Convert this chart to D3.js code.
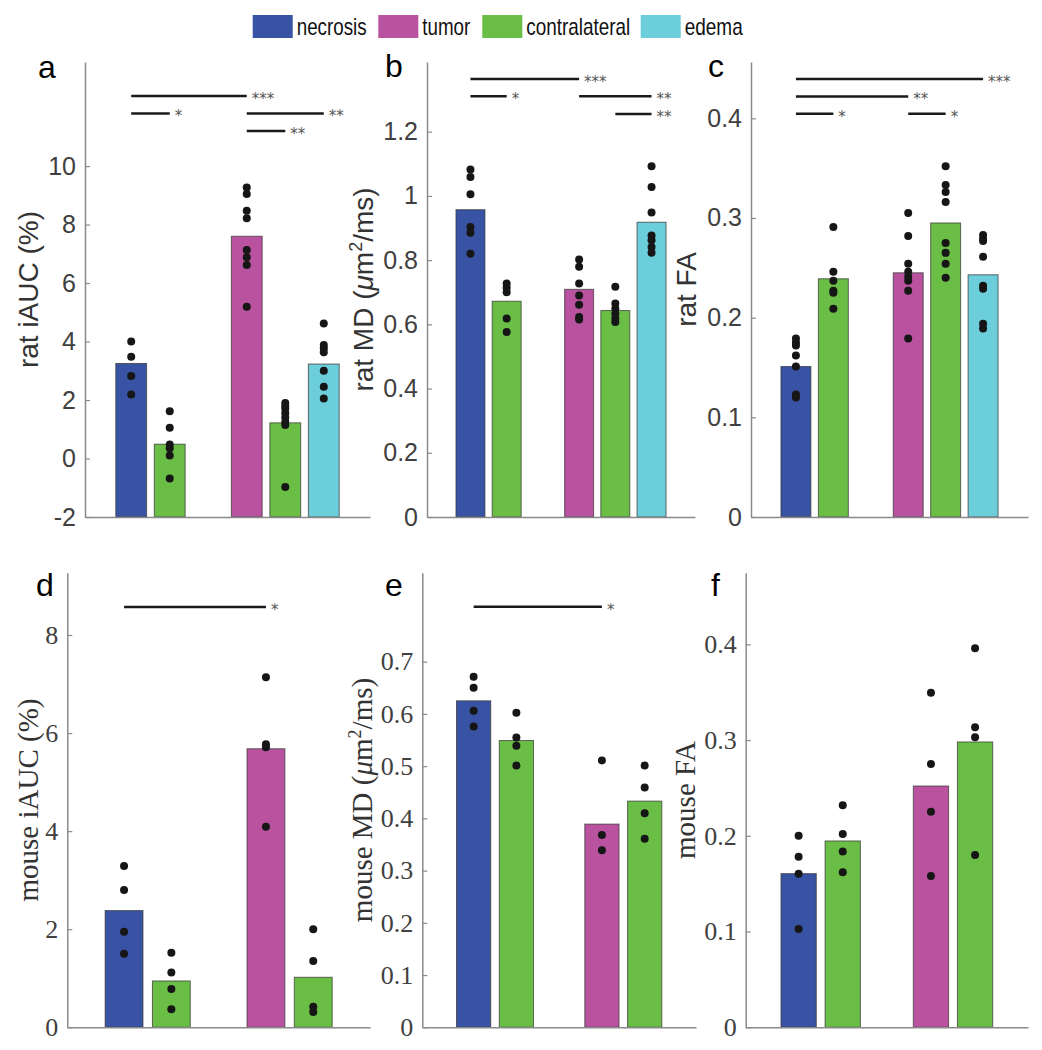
<!DOCTYPE html>
<html><head><meta charset="utf-8">
<script src="https://cdn.jsdelivr.net/npm/d3@7"></script>
<style>body{margin:0;background:#fff}svg{display:block}</style>
</head><body>
<svg id="chart" width="1042" height="1050"></svg>
<script>
// ---------- DATA ----------
const categories = ["necrosis", "tumor", "contralateral", "edema"];
const categoryColors = ["#3953a4", "#b9529f", "#6abd45", "#6dcedb"];

const ratBarCats = ["necrosis", "contralateral", "tumor", "contralateral", "edema"];
const ratBarPos = [1, 2, 4, 5, 6];
const mouseBarCats = ["necrosis", "contralateral", "tumor", "contralateral"];
const mouseBarPos = [1, 2, 4, 5];

const ratIAUCMeans = [3.25, 0.49, 7.60, 1.22, 3.23];
const ratIAUCPoints = [
  [4.0, 3.48, 2.82, 2.19],
  [1.62, 1.05, 0.48, 0.35, 0.10, -0.68],
  [9.27, 9.05, 8.47, 8.22, 7.13, 6.88, 6.62, 5.19],
  [1.9, 1.8, 1.7, 1.55, 1.4, 1.25, 1.15, -0.97],
  [4.62, 3.88, 3.77, 3.63, 3.0, 2.45, 2.05]
];
const ratIAUCSig = [[1, 4, "***", 12.4], [1, 2, "*", 11.8], [4, 6, "**", 11.8], [4, 5, "**", 11.2]];
const ratIAUCTicks = [-2, 0, 2, 4, 6, 8, 10];

const ratMDMeans = [0.957, 0.672, 0.709, 0.643, 0.918];
const ratMDPoints = [
  [1.082, 1.059, 1.005, 0.903, 0.885, 0.82],
  [0.727, 0.714, 0.70, 0.618, 0.576],
  [0.802, 0.779, 0.727, 0.69, 0.661, 0.623, 0.615],
  [0.717, 0.665, 0.649, 0.633, 0.618, 0.607],
  [1.092, 1.028, 0.948, 0.877, 0.862, 0.841, 0.823]
];
const ratMDSig = [[1, 4, "***", 1.364], [1, 2, "*", 1.31], [4, 6, "**", 1.31], [5, 6, "**", 1.255]];
const ratMDTicks = [0, 0.2, 0.4, 0.6, 0.8, 1, 1.2];

const ratFAMeans = [0.151, 0.239, 0.245, 0.295, 0.243];
const ratFAPoints = [
  [0.179, 0.175, 0.172, 0.162, 0.151, 0.123, 0.120],
  [0.291, 0.246, 0.237, 0.227, 0.225, 0.209],
  [0.305, 0.282, 0.254, 0.246, 0.241, 0.237, 0.227, 0.179],
  [0.352, 0.333, 0.326, 0.316, 0.275, 0.265, 0.254, 0.240],
  [0.283, 0.279, 0.277, 0.261, 0.232, 0.229, 0.194, 0.189]
];
const ratFASig = [[1, 6, "***", 0.4395], [1, 4, "**", 0.422], [1, 2, "*", 0.4047], [4, 5, "*", 0.4047]];
const ratFATicks = [0, 0.1, 0.2, 0.3, 0.4];

const mouseIAUCMeans = [2.38, 0.945, 5.68, 1.02];
const mouseIAUCPoints = [
  [3.29, 2.80, 1.95, 1.50],
  [1.52, 1.12, 0.78, 0.37],
  [7.14, 5.77, 5.71, 4.09],
  [2.0, 1.35, 0.42, 0.31]
];
const mouseIAUCSig = [[1, 4, "*", 8.57]];
const mouseIAUCTicks = [0, 2, 4, 6, 8];

const mouseMDMeans = [0.625, 0.549, 0.389, 0.433];
const mouseMDPoints = [
  [0.671, 0.650, 0.606, 0.576],
  [0.602, 0.555, 0.539, 0.501],
  [0.511, 0.368, 0.339],
  [0.501, 0.459, 0.410, 0.361]
];
const mouseMDSig = [[1, 4, "*", 0.805]];
const mouseMDTicks = [0, 0.1, 0.2, 0.3, 0.4, 0.5, 0.6, 0.7];

const mouseFAMeans = [0.1605, 0.1946, 0.252, 0.298];
const mouseFAPoints = [
  [0.200, 0.178, 0.1605, 0.1027],
  [0.232, 0.202, 0.1835, 0.162],
  [0.3495, 0.275, 0.225, 0.158],
  [0.396, 0.3133, 0.303, 0.180]
];
const mouseFASig = [];
const mouseFATicks = [0, 0.1, 0.2, 0.3, 0.4];

// ---------- LAYOUT ----------
const SANS = "'Liberation Sans', Arial, Helvetica, sans-serif";
const SERIF = "'Liberation Serif', 'Times New Roman', serif";
const STARFONT = "'DejaVu Sans', sans-serif";

const panels = [
  {letter: "a", cats: ratBarCats, pos: ratBarPos, means: ratIAUCMeans, points: ratIAUCPoints, sig: ratIAUCSig, ticks: ratIAUCTicks,
   ydom: [-2, 13.56], xdom: [-0.2, 7.2], box: [85, 370, 62, 517], font: SANS, label: "rat iAUC (%)", labelX: 38, letterPos: [38, 78]},
  {letter: "b", cats: ratBarCats, pos: ratBarPos, means: ratMDMeans, points: ratMDPoints, sig: ratMDSig, ticks: ratMDTicks,
   ydom: [0, 1.417], xdom: [-0.2, 7.2], box: [427, 695, 62, 517], font: SANS, label: "MD", labelX: 373, letterPos: [385, 77]},
  {letter: "c", cats: ratBarCats, pos: ratBarPos, means: ratFAMeans, points: ratFAPoints, sig: ratFASig, ticks: ratFATicks,
   ydom: [0, 0.4565], xdom: [-0.2, 7.2], box: [751, 1028, 62, 517], font: SANS, label: "rat FA", labelX: 696, letterPos: [708, 77]},
  {letter: "d", cats: mouseBarCats, pos: mouseBarPos, means: mouseIAUCMeans, points: mouseIAUCPoints, sig: mouseIAUCSig, ticks: mouseIAUCTicks,
   ydom: [0, 9.27], xdom: [-0.2, 6.2], box: [67.3, 370, 572.7, 1027.3], font: SERIF, label: "mouse iAUC (%)", labelX: 38, letterPos: [36, 596]},
  {letter: "e", cats: mouseBarCats, pos: mouseBarPos, means: mouseMDMeans, points: mouseMDPoints, sig: mouseMDSig, ticks: mouseMDTicks,
   ydom: [0, 0.8703], xdom: [-0.2, 6.2], box: [422.3, 696, 572.7, 1027.3], font: SERIF, label: "MD", labelX: 372, letterPos: [385, 596]},
  {letter: "f", cats: mouseBarCats, pos: mouseBarPos, means: mouseFAMeans, points: mouseFAPoints, sig: mouseFASig, ticks: mouseFATicks,
   ydom: [0, 0.4748], xdom: [-0.2, 6.2], box: [745.7, 1028, 572.7, 1027.3], font: SERIF, label: "mouse FA", labelX: 695, letterPos: [711, 596]}
];

const svg = d3.select("#chart");
const color = d3.scaleOrdinal().domain(categories).range(categoryColors);

panels.forEach(p => {
  const [L, R, T, B] = p.box;
  const x = d3.scaleLinear().domain(p.xdom).range([L, R]);
  const y = d3.scaleLinear().domain(p.ydom).range([B, T]);
  const g = svg.append("g");
  const isSerif = p.font === SERIF;

  // bars
  g.selectAll("rect.bar").data(p.means).join("rect")
    .attr("class", "bar")
    .attr("x", (d, i) => x(p.pos[i] - 0.4))
    .attr("width", (d, i) => x(p.pos[i] + 0.4) - x(p.pos[i] - 0.4))
    .attr("y", d => y(d))
    .attr("height", d => y(p.ydom[0]) - y(d))
    .attr("fill", (d, i) => color(p.cats[i]))
    .attr("stroke", "#3a3a3a").attr("stroke-opacity", 0.75).attr("stroke-width", 1);

  // dots
  p.points.forEach((arr, i) => {
    g.selectAll(null).data(arr).join("circle")
      .attr("cx", x(p.pos[i])).attr("cy", d => y(d)).attr("r", 4)
      .attr("fill", "#161616");
  });

  // axes
  const yAxis = d3.axisLeft(y).tickValues(p.ticks).tickSize(-5).tickSizeOuter(0).tickPadding(9)
    .tickFormat(d => String(+d.toFixed(2)));
  const ya = g.append("g").attr("transform", `translate(${L},0)`).call(yAxis);
  ya.select(".domain").attr("stroke", "#8a8a8a").attr("stroke-width", 1.5);
  ya.selectAll(".tick line").attr("stroke", "#8a8a8a").attr("stroke-width", 1.2);
  ya.selectAll(".tick text").attr("fill", "#404040")
    .style("font-family", p.font).style("font-size", isSerif ? "26px" : "25px");

  const xa = g.append("g").attr("transform", `translate(0,${B})`)
    .call(d3.axisBottom(x).tickValues([]).tickSizeOuter(0));
  xa.select(".domain").attr("stroke", "#8a8a8a").attr("stroke-width", 1.5);

  // significance
  p.sig.forEach(s => {
    g.append("line").attr("x1", x(s[0])).attr("x2", x(s[1]))
      .attr("y1", y(s[3])).attr("y2", y(s[3]))
      .attr("stroke", "#1a1a1a").attr("stroke-width", 2.5);
    g.append("text").attr("x", x(s[1]) + 5).attr("y", y(s[3]) + 8)
      .attr("fill", "#555").style("font-family", STARFONT).style("font-size", "15px")
      .text(s[2]);
  });

  // y label
  const cy = (T + B) / 2;
  const lab = g.append("text").attr("transform", `translate(${p.labelX},${cy}) rotate(-90)`)
    .attr("text-anchor", "middle").attr("fill", "#333")
    .style("font-family", p.font).style("font-size", isSerif ? "29px" : "28px");
  if (p.label === "MD") {
    lab.append("tspan").text((isSerif ? "mouse" : "rat") + " MD (");
    lab.append("tspan").style("font-style", "italic").text("μ");
    lab.append("tspan").text("m");
    lab.append("tspan").attr("dy", -11).style("font-size", "18px").text("2");
    lab.append("tspan").attr("dy", 11).text("/ms)");
  } else {
    lab.text(p.label);
  }

  // panel letter
  g.append("text").attr("x", p.letterPos[0]).attr("y", p.letterPos[1])
    .attr("fill", "#000").style("font-family", SANS).style("font-size", "32px")
    .text(p.letter);
});

// legend
const legendX = [252.7, 378.3, 482.3, 640.7];
const legendTextLen = [70, 48, 104, 58];
const lg = svg.append("g");
categories.forEach((c, i) => {
  lg.append("rect").attr("x", legendX[i]).attr("y", 15).attr("width", 40).attr("height", 23)
    .attr("fill", color(c));
  lg.append("text").attr("x", legendX[i] + 44).attr("y", 35)
    .attr("fill", "#111").style("font-family", SANS).style("font-size", "24px")
    .attr("textLength", legendTextLen[i]).attr("lengthAdjust", "spacingAndGlyphs")
    .text(c);
});
</script>
</body></html>
